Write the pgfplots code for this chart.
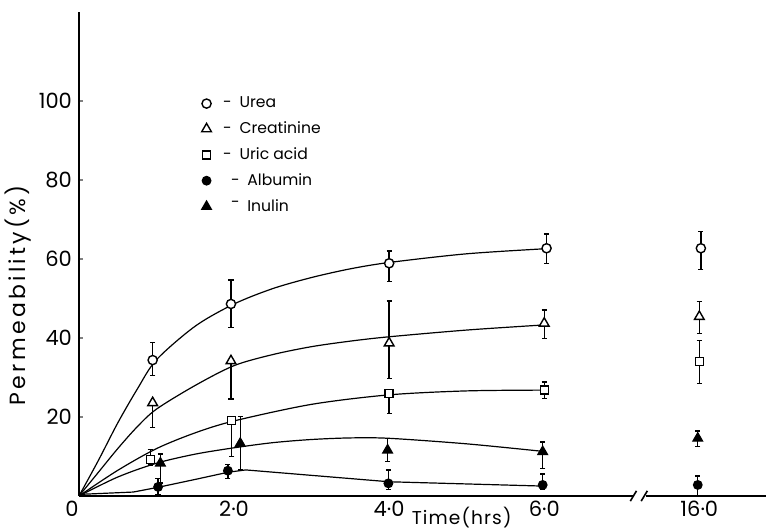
\documentclass[border=0pt]{standalone}
\usepackage{fontspec}
\setmainfont{Poppins}
\usepackage{pgfplots}
\pgfplotsset{compat=1.18}
\begin{document}
\begin{tikzpicture}
\begin{axis}[
 name=ax,
 scale only axis, width=343.5pt, height=242pt,
 xmin=0, xmax=8.86, ymin=0, ymax=122.5,
 axis x line*=bottom, axis y line*=left,
 axis line style={line width=0.8pt, -},
 x axis line style={draw=none},
 xtick={0,2,4,6,8}, xticklabels={\hspace*{-7pt}0,2·0,4·0,6·0,16·0},
 xtick style={draw=none},
 ytick={20,40,60,80,100}, yticklabels={20,40,60,80,100},
 ytick style={line width=0.8pt}, tick align=inside, major tick length=2pt,
 ticklabel style={font=\fontsize{10.5}{12}\selectfont},
 xticklabel style={yshift=1pt},
 xlabel={Time(hrs)},
 xlabel style={at={(rel axis cs:0.557,0)}, anchor=center, yshift=-10.6pt, font=\fontsize{9.3}{11}\selectfont\addfontfeature{LetterSpace=6}},
 ylabel={Permeability(\%)},
 ylabel style={at={(rel axis cs:-0.0888,0.415)}, anchor=center, font=\fontsize{11}{13}\selectfont\addfontfeature{LetterSpace=15}},
 clip=false,
 legend style={at={(axis cs:1.5,103.2)}, anchor=north west, draw=none, fill=none,
   font=\fontsize{7.8}{9.5}\selectfont, row sep=1.5pt, cells={anchor=west}},
 legend cell align=left,
 every axis plot/.append style={line width=0.7pt},
 err/.style={error bars/.cd, y dir=both, y explicit,
   error bar style={line width=0.7pt},
   error mark options={rotate=90, mark size=1.3pt, line width=0.7pt}},
]
% fitted curves
\addplot[black, smooth, line width=0.6pt, forget plot] coordinates {(0,0)(0.25,9)(0.5,18.5)(0.75,27)(1,34.5)(1.5,43)(2,48.6)(2.5,52.5)(3,55.3)(3.5,57.5)(4,59.1)(5,61.3)(6.03,62.6)};
\addplot[black, smooth, line width=0.6pt, forget plot] coordinates {(0,0)(0.25,6)(0.5,12)(0.75,17.5)(1,22)(1.5,28)(2,33)(2.5,35.8)(3,37.8)(3.5,39.2)(4,40.3)(5,42)(6,43.3)};
\addplot[black, smooth, line width=0.6pt, forget plot] coordinates {(0,0)(0.5,6.5)(1,12)(1.5,16)(2,19)(3,23.2)(4,25.6)(5,26.6)(6,26.8)};
\addplot[black, smooth, line width=0.6pt, forget plot] coordinates {(0,0)(0.5,4.8)(1,8.3)(1.5,10.6)(2,12.2)(2.5,13.5)(3,14.3)(3.5,14.7)(4,14.6)(5,13.2)(5.98,11.3)};
\addplot[black, line width=0.6pt, forget plot] coordinates {(0,0.4)(0.7,1.0)(1.02,2.2)(1.5,4.2)(1.92,6.0)(2.15,6.6)(4,3.6)(6,2.5)};
% data points
\addplot[black, only marks, mark=*, mark size=2.3pt, mark options={fill=white}, err]
 table[x=x, y=y, y error plus=ep, y error minus=em] {
x y ep em
0.95 34.4 4.5 3.9
1.96 48.6 6.1 5.9
4.0 58.9 3.1 4.6
6.03 62.7 3.6 3.8
8.02 62.7 4.2 5.3
};
\addlegendentry{\enspace-\enspace Urea}
\addplot[black, only marks, mark=triangle*, mark size=2.8pt, mark options={fill=white}, err]
 table[x=x, y=y, y error plus=ep, y error minus=em] {
x y ep em
0.95 23.6 0 6.3
1.96 34.2 0 9.7
4.0 38.7 10.7 8.9
6.0 43.7 3.4 3.8
8.0 45.4 3.8 4.2
};
\addlegendentry{\enspace-\enspace Creatinine}
\addplot[black, only marks, mark=square*, mark size=2.0pt, mark options={fill=white}, err]
 table[x=x, y=y, y error plus=ep, y error minus=em] {
x y ep em
0.92 9.3 2.5 1.5
1.97 19.1 0.6 9.1
4.0 26.0 0.6 5.1
6.0 26.8 2.1 2.1
8.0 34.0 5.3 5.6
};
\addlegendentry{\enspace-\enspace Uric acid}
\addplot[black, only marks, mark=*, mark size=2.1pt, err]
 table[x=x, y=y, y error plus=ep, y error minus=em] {
x y ep em
1.02 2.3 2.1 2.0
1.92 6.4 1.5 1.9
3.99 3.2 3.4 1.5
5.98 2.8 2.8 1.0
7.98 2.8 2.3 2.8
};
\addlegendentry{\enspace\enspace-\enspace Albumin}
\addplot[black, only marks, mark=triangle*, mark size=2.7pt, err]
 table[x=x, y=y, y error plus=ep, y error minus=em] {
x y ep em
1.05 8.3 2.3 5.0
2.08 13.3 6.8 6.7
3.98 11.6 3.0 2.9
5.98 11.2 2.5 4.2
7.98 14.6 1.9 2.1
};
\addlegendentry{\enspace\enspace\raisebox{2pt}{-}\enspace Inulin}
% x axis with break
\draw[line width=0.8pt] (axis cs:0,0) -- (axis cs:7.15,0);
\draw[line width=0.8pt] (axis cs:7.31,0) -- (axis cs:8.86,0);
\draw[line width=0.8pt] (axis cs:7.11,-1.3) -- (axis cs:7.19,1.3);
\draw[line width=0.8pt] (axis cs:7.25,-1.3) -- (axis cs:7.33,1.3);
\end{axis}
\path (ax.south west) ++(-39.5pt,-16.5pt) coordinate (bl);
\path (ax.north east) ++(0pt,6pt) coordinate (tr);
\pgfresetboundingbox
\path[use as bounding box] (bl) rectangle (tr);
\end{tikzpicture}
\end{document}
